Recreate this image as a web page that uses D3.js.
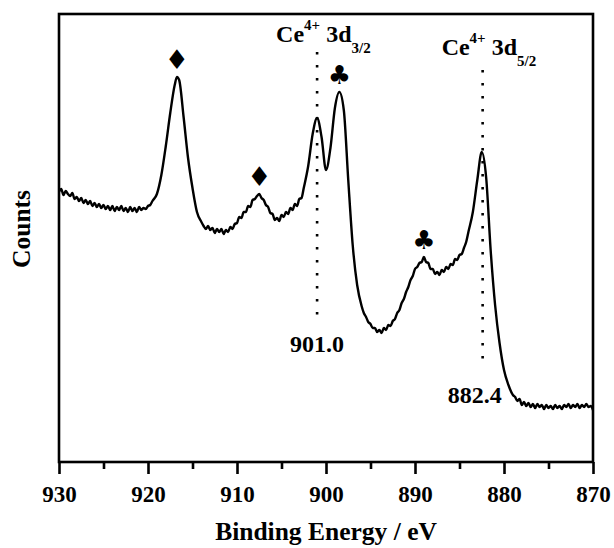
<!DOCTYPE html>
<html>
<head>
<meta charset="utf-8">
<script src="https://cdn.jsdelivr.net/npm/d3@7"></script>
<style>
  html, body { margin: 0; padding: 0; background: #fff; }
  svg { display: block; }
  text { font-family: "Liberation Serif", "Times New Roman", serif; font-weight: bold; fill: #000; }
</style>
</head>
<body>
<svg id="chart" width="614" height="548"></svg>
<script>
// Binding energy (eV) and counts (a.u.)
const energies = [
  930.0, 929.75, 929.5, 929.25, 929.0, 928.75, 928.5, 928.25, 928.0, 927.75,
  927.5, 927.25, 927.0, 926.75, 926.5, 926.25, 926.0, 925.75, 925.5, 925.25,
  925.0, 924.75, 924.5, 924.25, 924.0, 923.75, 923.5, 923.25, 923.0, 922.75,
  922.5, 922.25, 922.0, 921.75, 921.5, 921.25, 921.0, 920.75, 920.5, 920.25,
  920.0, 919.75, 919.5, 919.0, 918.5, 918.0, 917.5, 917.0, 916.75, 916.5,
  916.0, 915.5, 915.0, 914.5, 914.0, 913.75, 913.5, 913.25, 913.0, 912.75,
  912.5, 912.25, 912.0, 911.75, 911.5, 911.25, 911.0, 910.75, 910.5, 910.25,
  910.0, 909.75, 909.5, 909.25, 909.0, 908.75, 908.5, 908.25, 908.0, 907.75,
  907.5, 907.25, 907.0, 906.75, 906.5, 906.25, 906.0, 905.75, 905.5, 905.25,
  905.0, 904.75, 904.5, 904.25, 904.0, 903.75, 903.5, 903.25, 903.0, 902.75,
  902.5, 902.0, 901.5, 901.0, 900.5, 900.0, 899.5, 899.0, 898.5, 898.0,
  897.5, 897.0, 896.5, 896.0, 895.75, 895.5, 895.25, 895.0, 894.75, 894.5,
  894.25, 894.0, 893.75, 893.5, 893.25, 893.0, 892.75, 892.5, 892.25, 892.0,
  891.75, 891.5, 891.25, 891.0, 890.75, 890.5, 890.25, 890.0, 889.75, 889.5,
  889.25, 889.0, 888.75, 888.5, 888.25, 888.0, 887.75, 887.5, 887.25, 887.0,
  886.75, 886.5, 886.25, 886.0, 885.75, 885.5, 885.25, 885.0, 884.75, 884.5,
  884.25, 884.0, 883.5, 883.0, 882.5, 882.0, 881.5, 881.0, 880.5, 880.0,
  879.5, 879.0, 878.75, 878.5, 878.25, 878.0, 877.75, 877.5, 877.25, 877.0,
  876.75, 876.5, 876.25, 876.0, 875.75, 875.5, 875.25, 875.0, 874.75, 874.5,
  874.25, 874.0, 873.75, 873.5, 873.25, 873.0, 872.75, 872.5, 872.25, 872.0,
  871.75, 871.5, 871.25, 871.0, 870.75, 870.5, 870.25, 870.0
];
const counts = [
  270, 273, 267, 271, 268, 266, 269, 263, 265, 261,
  264, 259, 262, 258, 261, 256, 259, 255, 258, 254,
  257, 253, 256, 252, 256, 251, 255, 252, 256, 251,
  254, 250, 255, 251, 254, 250, 255, 252, 254, 253,
  256, 257, 261, 268, 287, 316, 349, 377, 385, 382,
  345, 304, 274, 250, 240, 236, 233, 236, 232, 234,
  229, 233, 230, 233, 228, 232, 230, 235, 233, 238,
  239, 245, 244, 250, 250, 256, 255, 262, 263, 266,
  268, 264, 262, 257, 255, 249, 248, 242, 244, 241,
  247, 245, 250, 248, 254, 252, 258, 256, 263, 264,
  274, 296, 328, 344, 325, 292, 314, 354, 370, 352,
  282, 217, 177, 156, 149, 145, 140, 138, 134, 134,
  130, 132, 129, 134, 132, 137, 136, 141, 143, 149,
  152, 159, 163, 170, 175, 182, 186, 193, 195, 199,
  200, 205, 200, 199, 193, 193, 188, 190, 187, 192,
  190, 195, 193, 198, 197, 203, 202, 207, 208, 214,
  220, 230, 250, 282, 310, 284, 212, 157, 119, 92,
  77, 67, 65, 61, 63, 57, 60, 56, 59, 55,
  58, 54, 58, 55, 57, 53, 57, 54, 56, 53,
  57, 54, 56, 53, 57, 55, 58, 54, 57, 55,
  58, 54, 57, 55, 58, 55, 56, 52
];

// Axis ticks
const majorTicks = [930, 920, 910, 900, 890, 880, 870];
const minorTicks = [925, 915, 905, 895, 885, 875];

// Peak markers (♦ and ♣) placed above these peaks
const markerEnergies = [916.75, 907.5, 898.5, 889.0];
const markerSymbols = ['\u2666', '\u2666', '\u2663', '\u2663'];
const markerSizes = [27, 27, 26, 26];

// Ce4+ reference lines
const refEnergies = [901.0, 882.4];
const refNumbers = ['901.0', '882.4'];
const refSubs = ['3/2', '5/2'];

const svg = d3.select('#chart');
const margin = { left: 59, right: 21, top: 14, bottom: 86 };
const W = 614, H = 548;

const x = d3.scaleLinear().domain([930, 870]).range([margin.left, W - margin.right]);
const y = d3.scaleLinear().domain([0, 448]).range([H - margin.bottom, margin.top]);

const data = energies.map((e, i) => ({ e, c: counts[i] }));
const countAt = (e) => data.reduce((a, b) => (Math.abs(b.e - e) < Math.abs(a.e - e) ? b : a)).c;

// Frame
svg.append('rect')
  .attr('x', x(930)).attr('y', y(448))
  .attr('width', x(870) - x(930)).attr('height', y(0) - y(448))
  .attr('fill', 'none').attr('stroke', '#000').attr('stroke-width', 2.6);

// Bottom axis
const axisG = svg.append('g').attr('transform', `translate(0,${y(0)})`);
axisG.call(d3.axisBottom(x).tickValues(majorTicks).tickSize(12).tickFormat(d3.format('d')));
axisG.select('.domain').remove();
axisG.selectAll('.tick line').attr('stroke-width', 2.6);
axisG.selectAll('.tick text')
  .attr('dy', null).attr('y', 40)
  .style('font-family', '"Liberation Serif", serif')
  .style('font-weight', 'bold').style('font-size', '23px');

const minorG = svg.append('g').attr('transform', `translate(0,${y(0)})`);
minorG.call(d3.axisBottom(x).tickValues(minorTicks).tickSize(7).tickFormat(''));
minorG.select('.domain').remove();
minorG.selectAll('.tick line').attr('stroke-width', 2.6);

// Spectrum
const line = d3.line().x(d => x(d.e)).y(d => y(d.c)).curve(d3.curveMonotoneX);
svg.append('path')
  .datum(data)
  .attr('d', line)
  .attr('fill', 'none')
  .attr('stroke', '#000')
  .attr('stroke-width', 2.4)
  .attr('stroke-linejoin', 'round');

// Reference dotted lines with labels
const refTop = [52, 70];
const refBottom = [317, 362];
const numBase = [352, 403];
const labelBase = [42, 55];

refEnergies.forEach((e, i) => {
  svg.append('line')
    .attr('x1', x(e)).attr('x2', x(e))
    .attr('y1', refTop[i]).attr('y2', refBottom[i])
    .attr('stroke', '#000').attr('stroke-width', 2.6)
    .attr('stroke-dasharray', '2.4 10.6');

  svg.append('text')
    .attr('x', x(e) - (i === 1 ? 8 : 0)).attr('y', numBase[i])
    .attr('text-anchor', 'middle')
    .style('font-size', '24px')
    .text(refNumbers[i]);

  const t = svg.append('text')
    .attr('x', x(e) - 41).attr('y', labelBase[i])
    .style('font-size', '24px');
  t.append('tspan').text('Ce');
  t.append('tspan').attr('dy', -12).style('font-size', '15px').text('4+');
  t.append('tspan').attr('dy', 12).text('\u00a03d');
  t.append('tspan').attr('dy', 11).style('font-size', '15px').text(refSubs[i]);
});

// Peak markers
markerEnergies.forEach((e, i) => {
  svg.append('text')
    .attr('x', x(e)).attr('y', y(countAt(e)) - 8)
    .attr('text-anchor', 'middle')
    .style('font-family', '"DejaVu Sans", sans-serif')
    .style('font-size', markerSizes[i] + 'px')
    .text(markerSymbols[i]);
});

// Axis titles
svg.append('text')
  .attr('x', (x(930) + x(870)) / 2).attr('y', 540)
  .attr('text-anchor', 'middle')
  .style('font-size', '25.5px')
  .text('Binding Energy / eV');

svg.append('text')
  .attr('transform', 'translate(30,229) rotate(-90)')
  .attr('text-anchor', 'middle')
  .style('font-size', '25.5px')
  .text('Counts');
</script>
</body>
</html>
